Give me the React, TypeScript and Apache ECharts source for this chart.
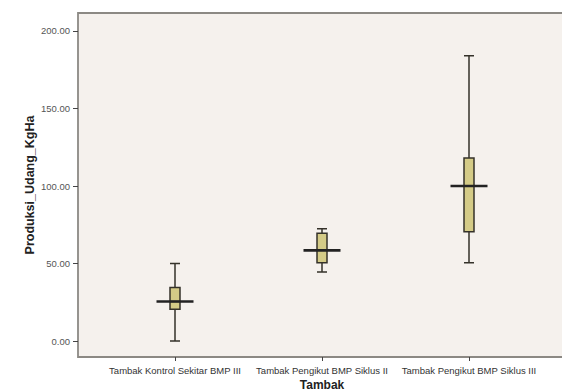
import React, { useEffect, useRef } from "react";
import * as echarts from "echarts";

const categories = [
  "Tambak Kontrol Sekitar BMP III",
  "Tambak Pengikut BMP Siklus II",
  "Tambak Pengikut BMP Siklus III",
];
// [min, Q1, median, Q3, max]
const boxValues = [
  [0, 20.5, 25.5, 34.5, 50],
  [44.5, 50.5, 58.5, 69.5, 72.5],
  [50.5, 70.5, 100, 118, 184],
];
const medians = boxValues.map((b) => b[2]);
const yTicks = [0, 50, 100, 150, 200];

export default function App() {
  const ref = useRef<HTMLDivElement>(null);
  useEffect(() => {
    if (!ref.current) return;
    const chart = echarts.init(ref.current, null, { renderer: "svg" });
    chart.setOption({
      animation: false,
      backgroundColor: "#ffffff",
      textStyle: { fontFamily: "Liberation Sans, Arial, sans-serif" },
      graphic: [
        {
          type: "rect",
          z: 0,
          shape: { x: 78, y: 13, width: 495, height: 344 },
          style: { fill: "#f5f1ed", stroke: "#8c8984", lineWidth: 1.8 },
          silent: true,
        },
      ],
      grid: {
        left: 101.5,
        right: 19.5,
        top: 13,
        bottom: 35,
        containLabel: false,
        outerBoundsMode: "none",
      },
      xAxis: {
        type: "category",
        data: categories,
        boundaryGap: true,
        name: "Tambak",
        nameLocation: "middle",
        nameGap: 22,
        nameMoveOverlap: false,
        nameTextStyle: { fontSize: 12, fontWeight: "bold", color: "#222" },
        axisLine: { show: false, onZero: false },
        axisTick: { show: true, alignWithLabel: true, length: 4, lineStyle: { color: "#444" } },
        axisLabel: { fontSize: 9.5, color: "#333", margin: 8, interval: 0 },
        splitLine: { show: false },
      },
      yAxis: {
        type: "value",
        min: -10.3,
        max: 211.6,
        offset: 23.5,
        name: "Produksi_Udang_KgHa",
        nameLocation: "middle",
        nameGap: 42,
        nameMoveOverlap: false,
        nameTextStyle: { fontSize: 12.5, fontWeight: "bold", color: "#222" },
        axisLine: { show: false, onZero: false },
        axisTick: { show: true, length: 5, customValues: yTicks, lineStyle: { color: "#444" } },
        axisLabel: {
          fontSize: 9.5,
          color: "#555",
          margin: 8,
          customValues: yTicks,
          formatter: (v: number) => v.toFixed(2),
        },
        splitLine: { show: false },
      },
      series: [
        {
          type: "boxplot",
          data: boxValues,
          boxWidth: [10, 10],
          z: 3,
          itemStyle: { color: "#d4cb87", borderColor: "#35322a", borderWidth: 1.5 },
        },
        {
          type: "scatter",
          data: medians,
          symbol: "rect",
          symbolSize: [37, 2.6],
          z: 5,
          itemStyle: { color: "#222222", opacity: 1 },
        },
      ],
    });
    return () => chart.dispose();
  }, []);
  return (
    <div
      ref={ref}
      style={{ position: "fixed", left: 0, top: 0, width: 562, height: 392 }}
    />
  );
}
